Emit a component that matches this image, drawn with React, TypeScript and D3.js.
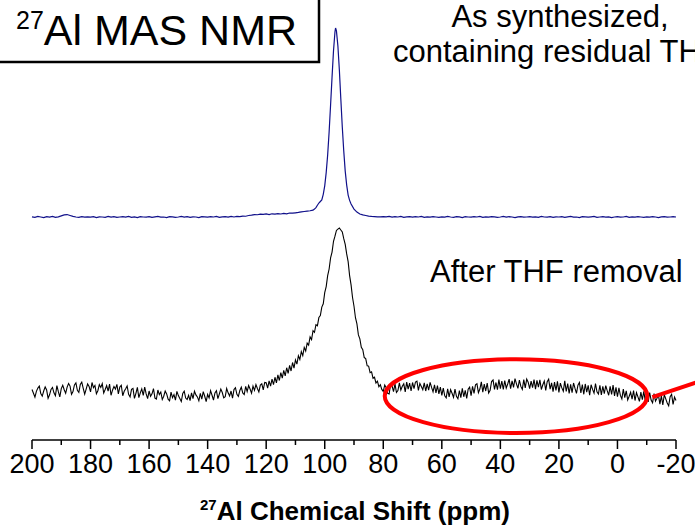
import React from "react";
import * as d3 from "d3";

// ---------- data ----------
// Black trace ("After THF removal"), 0.5 ppm steps from 200 to -20 ppm, normalised (peak = 100)
const blackStart = 200;
const blackStep = -0.5;
const blackIntensity: number[] = [
  1.5, -0.8, -3.2, 0.4, 2.4, 3.6, -1.0, -2.5, 0.6, 3.1, 1.2, -3.8, -1.7, 1.6, 2.8, -0.5, -2.3, 3.9, 0.2, -3.0,
  2.1, 4.1, 1.4, -0.8, 3.0, 5.2, 3.6, -1.4, 0.3, 4.3, 5.6, 1.0, -0.2, 4.6, 6.0, 2.2, -1.3, 1.8, 4.9, 3.4,
  0.1, 5.8, 2.6, 4.0, -1.0, 0.8, 4.5, 2.8, 5.1, -0.6, 1.5, 3.9, 0.5, 4.8, -2.0, 1.1, 3.4, 1.8, 4.6, -1.2,
  3.0, 4.1, -2.3, 0.4, 2.0, 3.7, -1.4, -3.0, 1.6, 2.2, -3.9, -0.8, 2.8, -3.4, -0.5, 1.9, -2.0, 3.0, -1.2, -4.0,
  0.6, -2.6, -1.1, 2.1, -3.7, -4.3, 1.2, -1.6, 0.0, -4.6, -2.6, 0.6, -1.2, -4.4, -5.4, -0.1, -3.5, -1.6, -5.0, 0.4,
  -2.2, -4.0, -5.8, -0.9, 0.5, -3.7, -4.6, -2.0, -5.2, -0.5, -4.1, 0.5, -1.8, -3.0, -5.4, -0.9, -4.3, 0.2, -2.6, -5.9,
  -1.5, -3.6, 0.8, -2.0, -4.9, -0.6, 0.8, -4.0, -1.2, 1.8, -0.3, -3.6, -2.9, 2.1, -0.5, -2.4, 0.6, -3.8, 1.5, 2.6,
  -1.4, -2.7, 0.9, 2.9, -0.6, -1.6, 3.4, 0.3, 3.9, 1.8, -0.7, 3.6, 1.0, 4.5, 2.1, 0.0, 4.2, 5.0, 1.3, 5.8,
  5.6, 2.4, 6.8, 3.6, 7.8, 4.5, 9.0, 5.6, 10.4, 7.0, 11.8, 8.4, 13.2, 9.8, 14.8, 11.3, 16.2, 12.8, 18.0, 14.6,
  19.6, 17.0, 22.1, 19.8, 24.6, 22.2, 27.2, 25.0, 29.8, 28.6, 33.6, 32.0, 37.4, 36.4, 41.0, 40.4, 45.4, 46.6, 51.8, 53.8,
  60.6, 64.3, 71.0, 75.0, 81.8, 85.3, 91.9, 95.0, 98.5, 99.3, 100, 98.8, 97.6, 93.5, 90.0, 84.2, 79.5, 71.0, 65.3, 57.6,
  52.3, 45.3, 41.5, 34.8, 32.4, 27.3, 25.8, 21.0, 20.4, 16.0, 15.8, 11.8, 12.3, 8.4, 9.0, 5.5, 6.6, 3.2, 4.4, 1.6,
  0.4, 4.3, 2.6, -0.8, -1.2, 4.6, 3.8, 0.2, 4.9, -0.3, 0.9, 5.6, 1.2, 3.5, 5.0, 0.1, 6.0, 1.8, 5.4, 0.6,
  5.8, 2.0, 6.1, 6.6, 1.0, 5.2, 3.3, 1.4, 5.6, 0.6, 5.0, 1.2, 5.9, 2.8, 0.1, 4.4, -0.6, 3.9, -1.2, 3.0,
  -2.0, 2.4, -2.3, -3.6, 1.9, -3.0, 1.4, -0.8, -3.3, 1.8, -2.6, -4.1, 0.9, -3.4, 2.2, -2.9, 1.0, -3.9, 1.7, 3.0,
  -2.2, 3.5, -0.8, 4.4, 5.0, -0.4, 1.8, 6.2, -0.1, 4.8, 0.6, 5.5, -0.6, 1.0, 6.4, 7.3, 1.6, 5.8, 1.4, 7.6,
  2.0, 6.7, 1.6, 7.0, 2.4, 4.9, 7.8, 2.0, 6.8, 2.8, 8.2, 5.0, 2.2, 7.3, 3.4, 1.6, 7.5, 2.5, 7.9, 6.0,
  2.1, 6.6, 2.7, 7.6, 1.8, 7.1, 3.0, 7.4, 1.5, 4.4, 6.7, 1.0, 6.3, 7.8, 1.7, 5.6, 0.2, 6.0, 0.9, 6.5,
  -0.2, 5.4, 2.5, 0.5, 6.8, 0.3, 5.1, -0.9, 4.7, -0.4, 5.5, 2.2, -0.8, 4.2, 5.8, -0.6, 4.5, -1.4, 4.9, -0.1,
  4.0, -1.9, 4.4, 1.6, -0.7, 5.2, 0.1, -1.2, 4.1, -1.8, 3.5, -1.0, 3.9, 0.8, -2.0, 3.4, -1.5, 4.2, -2.4, 2.8,
  -2.9, 2.5, -2.1, -4.2, 1.8, -3.4, 0.7, -4.8, -2.6, -0.2, -4.4, 0.8, -5.2, -0.4, -3.0, -5.7, -0.1, -4.6, 0.4, -5.4,
  -0.8, -6.1, -0.3, -4.9, -6.6, -1.0, -5.5, -3.8, -1.9, -7.4, -2.4, -7.9, -1.6, -4.2, -6.7, -8.4, -2.8, -1.4, -7.6, -3.1,
  -5.2,
];

// Blue trace ("As synthesized"), normalised (peak = 100)
// baseline left of the peak: 1 ppm steps from 200 down to 111
const blueLeftStart = 200;
const blueLeft: number[] = [
  0.1, -0.2, 0.3, 0.0, -0.3, 0.2, -0.1, 0.3, -0.2, 0.1,
  0.6, 1.1, 1.3, 0.8, 0.3, 0.0, -0.2, 0.2, -0.1, 0.1,
  -0.1, 0.2, -0.3, 0.1, 0.0, -0.2, 0.3, -0.1, 0.2, -0.2,
  0.0, 0.2, -0.1, 0.3, -0.2, 0.1, -0.3, 0.2, 0.0, -0.1,
  0.2, -0.2, 0.1, 0.3, -0.1, 0.0, -0.3, 0.2, 0.1, -0.2,
  0.0, 0.3, -0.1, 0.2, -0.2, 0.1, 0.0, -0.3, 0.2, 0.1,
  -0.1, 0.2, 0.0, 0.3, -0.2, 0.1, 0.2, -0.1, 0.3, 0.0,
  0.3, 0.2, 0.5, 0.4, 0.8, 1.0, 1.3, 1.2, 1.5, 1.4,
  1.6, 1.3, 1.7, 1.5, 1.8, 1.6, 1.9, 1.7, 2.1, 2.0,
];
// peak region
const bluePeakShift: number[] = [
  110, 109, 108, 107, 106, 105, 104, 103.5, 103, 102.5, 102, 101.5, 101, 100.5, 100, 99.5, 99, 98.5, 98, 97.5,
  97, 96.5, 96.3, 96, 95.5, 95, 94.5, 94, 93.5, 93, 92.5, 92, 91.5, 91, 90, 89, 88, 87, 86, 85, 84, 83, 82,
];
const bluePeakIntensity: number[] = [
  2.2, 2.4, 2.7, 2.9, 3.1, 3.3, 3.6, 4.2, 5.0, 6.2, 7.4, 8.2, 9.0, 12.0, 16.5, 23.5, 32.8, 45.0, 59.3, 74.0,
  88.0, 98.0, 100, 98.5, 90.5, 77.8, 62.4, 47.6, 34.9, 24.3, 16.9, 11.6, 8.8, 6.9, 4.2, 2.6, 1.6, 1.1, 0.8, 0.5, 0.3, 0.2, 0.1,
];
// baseline right of the peak: 1 ppm steps from 81 down to -20
const blueRightStart = 81;
const blueRight: number[] = [
  0.1, 0.2, 0.1, 0.3, -0.1, 0.2, 0.0, 0.3, -0.2, 0.1, 0.2,
  -0.1, 0.2, 0.0, 0.3, -0.2, 0.1, -0.1, 0.2, 0.0, -0.2,
  0.1, -0.1, 0.3, 0.0, -0.2, 0.2, 0.1, -0.3, 0.2, 0.0,
  -0.1, 0.2, 0.0, 0.3, -0.2, 0.1, -0.1, 0.2, 0.1, -0.2,
  0.0, 0.3, -0.1, 0.2, 0.0, -0.3, 0.1, 0.2, -0.1, 0.0,
  0.2, -0.1, 0.1, -0.2, 0.3, 0.0, -0.1, 0.2, -0.2, 0.1,
  0.0, 0.2, -0.2, 0.1, 0.3, -0.1, 0.0, -0.3, 0.2, 0.1,
  -0.1, 0.1, 0.3, -0.2, 0.0, 0.2, -0.1, 0.1, -0.3, 0.0,
  0.2, -0.1, 0.0, 0.3, -0.2, 0.1, -0.1, 0.2, 0.0, -0.2,
  0.1, -0.1, 0.2, 0.0, -0.3, 0.1, 0.2, -0.1, 0.0, 0.2,
  0.0,
];

const xMajorTicks: number[] = [200, 180, 160, 140, 120, 100, 80, 60, 40, 20, 0, -20];
const xMinorTicks: number[] = [190, 170, 150, 130, 110, 90, 70, 50, 30, 10, -10];
const xDomain: [number, number] = [200, -20];

const titleBoxLabel = "Al MAS NMR";
const titleBoxSup = "27";
const blueLabel1 = "As synthesized,";
const blueLabel2 = "containing residual THF";
const blackLabel = "After THF removal";
const axisTitleSup = "27";
const axisTitle = "Al Chemical Shift (ppm)";
// highlighted region (ppm range, intensity range of black trace)
const highlightPpm: [number, number] = [79.5, -10.2];
const highlightInt: [number, number] = [20, -25];

type Pt = { ppm: number; v: number };

export default function App() {
  const W = 695;
  const H = 527;
  const axisY = 440;
  const x = d3.scaleLinear().domain(xDomain).range([32, 676]);
  const yBlack = d3.scaleLinear().domain([0, 100]).range([392, 228]);
  const yBlue = d3.scaleLinear().domain([0, 100]).range([217, 28]);

  const blackPts: Pt[] = blackIntensity.map((v, i) => ({ ppm: blackStart + i * blackStep, v }));
  const bluePts: Pt[] = [
    ...blueLeft.map((v, i) => ({ ppm: blueLeftStart - i, v })),
    ...bluePeakShift.map((p, i) => ({ ppm: p, v: bluePeakIntensity[i] })),
    ...blueRight.map((v, i) => ({ ppm: blueRightStart - i, v })),
  ];

  const blackLine = d3.line<Pt>().x((d) => x(d.ppm)).y((d) => yBlack(d.v));
  const blueLine = d3.line<Pt>().x((d) => x(d.ppm)).y((d) => yBlue(d.v));

  const ex0 = x(highlightPpm[0]);
  const ex1 = x(highlightPpm[1]);
  const ey0 = yBlack(highlightInt[0]);
  const ey1 = yBlack(highlightInt[1]);
  const ecx = (ex0 + ex1) / 2;
  const ecy = (ey0 + ey1) / 2;

  const font = "'Liberation Sans', Arial, sans-serif";

  return (
    <svg width={W} height={H} style={{ position: "absolute", left: 0, top: 0 }} fontFamily={font}>
      <rect x={0} y={0} width={W} height={H} fill="white" />
      {/* title box */}
      <rect x={-5} y={-5} width={324} height={67} fill="white" stroke="black" strokeWidth={2.5} />
      <text x={16} y={45} fontSize={43} fill="black">
        <tspan fontSize={25} dy={-16}>{titleBoxSup}</tspan>
        <tspan dy={16}>{titleBoxLabel}</tspan>
      </text>
      {/* traces */}
      <path d={blueLine(bluePts) || ""} fill="none" stroke="#10108a" strokeWidth={1.2} />
      <path d={blackLine(blackPts) || ""} fill="none" stroke="black" strokeWidth={1.1} />
      {/* labels */}
      <text x={560} y={27} fontSize={31} textAnchor="middle">{blueLabel1}</text>
      <text x={393} y={62} fontSize={31}>{blueLabel2}</text>
      <text x={430} y={282} fontSize={31}>{blackLabel}</text>
      {/* highlight */}
      <ellipse cx={ecx} cy={ecy} rx={(ex1 - ex0) / 2} ry={(ey1 - ey0) / 2} fill="none" stroke="#ff0000" strokeWidth={4} />
      <line x1={ex1 + 5} y1={ecy + 1} x2={W + 5} y2={ecy - 15} stroke="#ff0000" strokeWidth={4} />
      {/* axis */}
      <line x1={x(xDomain[0])} x2={x(xDomain[1])} y1={axisY} y2={axisY} stroke="black" strokeWidth={1.5} />
      {xMajorTicks.map((t) => (
        <g key={"M" + t}>
          <line x1={x(t)} x2={x(t)} y1={axisY} y2={axisY + 9} stroke="black" strokeWidth={1.5} />
          <text x={x(t)} y={473} fontSize={27} textAnchor="middle">{t}</text>
        </g>
      ))}
      {xMinorTicks.map((t) => (
        <line key={"m" + t} x1={x(t)} x2={x(t)} y1={axisY} y2={axisY + 5} stroke="black" strokeWidth={1.5} />
      ))}
      <text x={355} y={520} fontSize={26} fontWeight="bold" textAnchor="middle">
        <tspan fontSize={15} dy={-10}>{axisTitleSup}</tspan>
        <tspan dy={10}>{axisTitle}</tspan>
      </text>
    </svg>
  );
}
